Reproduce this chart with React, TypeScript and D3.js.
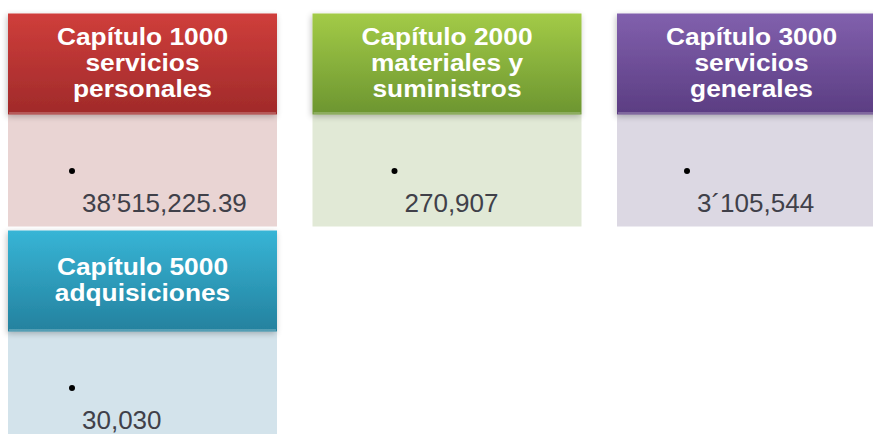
import React from "react";
import * as d3 from "d3";

const titles: string[][] = [
  ["Capítulo 1000", "servicios", "personales"],
  ["Capítulo 2000", "materiales y", "suministros"],
  ["Capítulo 3000", "servicios", "generales"],
  ["Capítulo 5000", "adquisiciones"],
];
const amounts: string[] = ["38’515,225.39", "270,907", "3´105,544", "30,030"];
const headerTop: string[] = ["#cf3e3b", "#a3cb47", "#8160ad", "#37b5d6"];
const headerBottom: string[] = ["#a02a2a", "#6c9530", "#5b3d82", "#24819e"];
const bodyFill: string[] = ["#e9d4d3", "#e1e9d6", "#dcd8e3", "#d3e3eb"];
const bulletOffset: number[] = [64, 82, 70, 64];

const W = 873;
const H = 434;
const boxW = 269;
const headH = 101;
const bodyH = 112;

export default function App() {
  const col = d3.scaleLinear().domain([0, 1]).range([8, 312.5]);
  const row = d3.scaleLinear().domain([0, 1]).range([13.5, 230.5]);
  const items = titles.map((t, i) => ({
    t,
    amount: amounts[i],
    c: i % 3,
    r: Math.floor(i / 3),
    i,
  }));
  return (
    <svg
      width={W}
      height={H}
      style={{ position: "absolute", left: 0, top: 0, display: "block" }}
      fontFamily="'Liberation Sans', Arial, sans-serif"
    >
      <defs>
        <filter id="sh" x="-20%" y="-20%" width="140%" height="150%">
          <feGaussianBlur in="SourceAlpha" stdDeviation="3" />
          <feOffset dx="-1" dy="2" result="b" />
          <feComponentTransfer>
            <feFuncA type="linear" slope="0.25" />
          </feComponentTransfer>
          <feMerge>
            <feMergeNode />
            <feMergeNode in="SourceGraphic" />
          </feMerge>
        </filter>
        {items.map((d) => (
          <linearGradient key={d.i} id={`g${d.i}`} x1="0" y1="0" x2="0" y2="1">
            <stop offset="0" stopColor={headerTop[d.i]} />
            <stop offset="1" stopColor={headerBottom[d.i]} />
          </linearGradient>
        ))}
      </defs>
      <rect width={W} height={H} fill="#ffffff" />
      {items.map((d) => {
        const x = col(d.c);
        const y = row(d.r);
        return (
          <g key={`b${d.i}`}>
            <rect x={x} y={y + headH} width={boxW} height={bodyH} fill={bodyFill[d.i]} />
          </g>
        );
      })}
      {items.map((d) => {
        const x = col(d.c);
        const y = row(d.r);
        const n = d.t.length;
        const first = y + headH / 2 - (n - 1) * 13 + 7;
        const bx = x + bulletOffset[d.i];
        return (
          <g key={`h${d.i}`}>
            <g filter="url(#sh)">
              <rect x={x} y={y} width={boxW} height={headH} fill={`url(#g${d.i})`} />
            </g>
            <line
              x1={x + 1}
              x2={x + boxW - 1}
              y1={y + headH - 1.5}
              y2={y + headH - 1.5}
              stroke="#ffffff"
              strokeOpacity={0.3}
              strokeWidth={1.5}
            />
            {d.t.map((line, k) => (
              <text
                key={k}
                transform={`translate(${x + boxW / 2},${first + k * 26}) scale(1.12,1)`}
                textAnchor="middle"
                fill="#ffffff"
                fontWeight="bold"
                fontSize={23.5}
              >
                {line}
              </text>
            ))}
            <circle cx={bx} cy={y + 157.5} r={3} fill="#000000" />
            <text x={bx + 10} y={y + 198.5} fill="#404049" fontSize={26}>
              {d.amount}
            </text>
          </g>
        );
      })}
    </svg>
  );
}
